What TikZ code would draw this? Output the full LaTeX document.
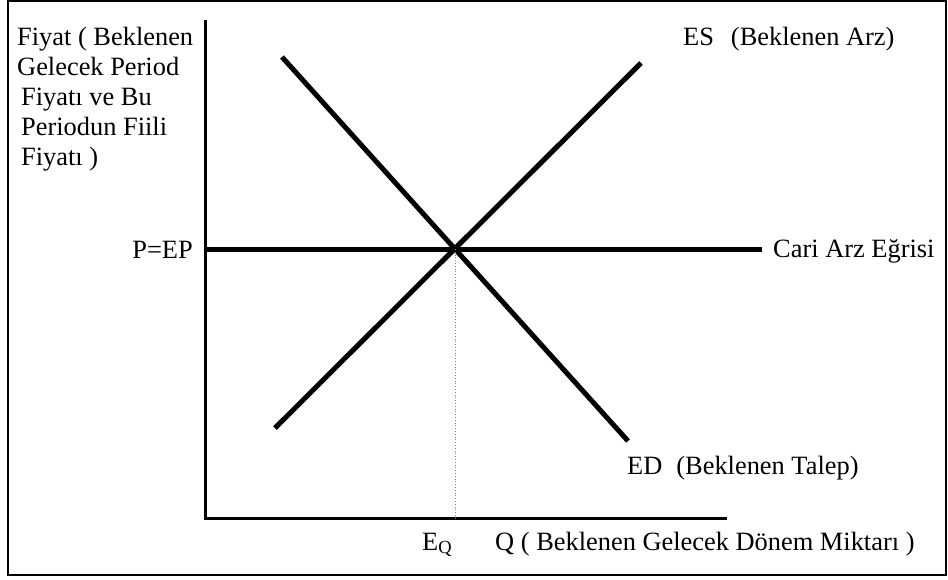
\documentclass[tikz,border=0pt]{standalone}
\usepackage{fontspec}
\setmainfont{Liberation Serif}
\begin{document}
\begin{tikzpicture}[x=1pt,y=-1pt,
  lbl/.style={inner sep=0pt, font=\fontsize{26.4}{30}\selectfont},
  axisline/.style={line width=3pt},
  curveline/.style={line width=5pt},
  frameline/.style={line width=1.5pt}]
\useasboundingbox (0,0) rectangle (948,579);
\draw[frameline] (8,1) rectangle (946,575);
% axes
\coordinate (ytop) at (205,20);
\coordinate (origin) at (205,518);
\coordinate (xend) at (727,518);
\draw[axisline] (ytop) -- (origin) -- (xend);
% curves
\coordinate (hstart) at (205,249);
\coordinate (hend) at (762,249);
\coordinate (eq) at (455,249);
\coordinate (eqfoot) at (455,518);
\coordinate (esbot) at (275,428);
\coordinate (estop) at (641,63);
\coordinate (edtop) at (282,57);
\coordinate (edbot) at (628,441);
\draw[curveline] (hstart) -- (hend);
\draw[curveline] (esbot) -- (estop);
\draw[curveline] (edtop) -- (edbot);
\draw[gray, dotted, line width=0.8pt] (eq) -- (eqfoot);
% labels
\node[lbl, anchor=north west, align=left] (ylabel) at (17,27)
  {Fiyat ( Beklenen\\Gelecek Period\\\hspace*{4pt}Fiyatı ve Bu\\\hspace*{4pt}Periodun Fiili\\\hspace*{4pt}Fiyatı )};
\node[lbl, anchor=base east] (pep) at (193,258) {P=EP};
\node[lbl, anchor=base west] (es) at (683,45) {ES\hspace{17pt}(Beklenen Arz)};
\node[lbl, anchor=base west] (cari) at (773,257) {Cari Arz Eğrisi};
\node[lbl, anchor=base west] (ed) at (627,474) {ED\hspace{14pt}(Beklenen Talep)};
\node[lbl, anchor=base west] (eqlabel) at (422,550) {E\textsubscript{Q}};
\node[lbl, anchor=base west] (qlabel) at (495,550) {Q ( Beklenen Gelecek Dönem Miktarı )};
\end{tikzpicture}
\end{document}
